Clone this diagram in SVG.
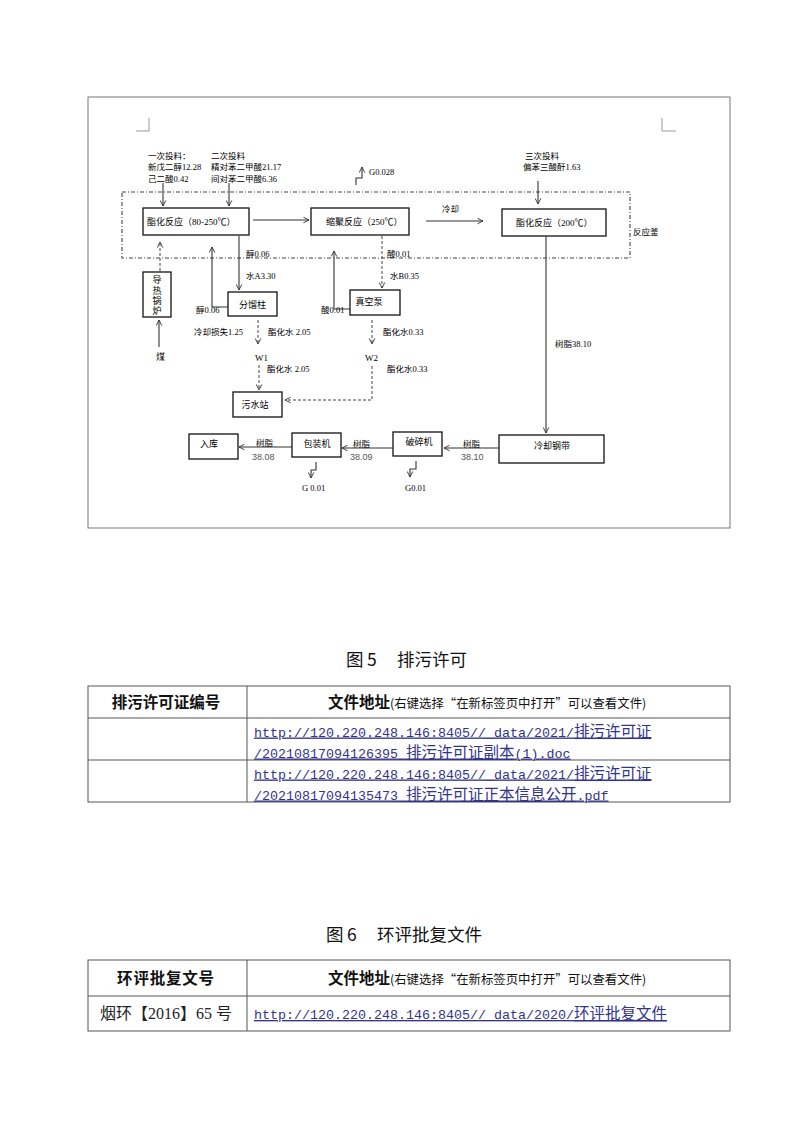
<svg xmlns="http://www.w3.org/2000/svg" width="800" height="1132" viewBox="0 0 800 1132">
<style>
.t{font-family:"Liberation Serif","Noto Sans CJK SC",serif;font-size:8.5px;fill:#000}
.b{font-family:"Liberation Serif","Noto Sans CJK SC",serif;font-size:9px;fill:#000}
.g{font-family:"Liberation Sans","Noto Sans CJK SC",sans-serif;font-size:9px;fill:#555}
.box{fill:#fff;stroke:#111;stroke-width:1.3}
.ln{fill:none;stroke:#333;stroke-width:1.1}
.ds{fill:none;stroke:#444;stroke-width:1;stroke-dasharray:3 2}
.ttl{font-family:"Noto Sans CJK SC",sans-serif;font-size:17.5px;fill:#111}
.hd{font-family:"Noto Sans CJK SC",sans-serif;font-size:15.5px;font-weight:bold;fill:#111}
.sm{font-family:"Noto Sans CJK SC",sans-serif;font-size:12.4px;font-weight:normal;fill:#111}
.lk{font-family:"Liberation Mono","Noto Sans CJK SC",monospace;font-size:13.33px;fill:#33338a;text-decoration:underline}
.cj{font-family:"Noto Sans CJK SC",sans-serif;font-size:15.5px}
.tb{fill:none;stroke:#555;stroke-width:1}
</style>
<defs>
<marker id="ah" viewBox="0 0 10 10" refX="9" refY="5" markerWidth="7" markerHeight="7" markerUnits="userSpaceOnUse" orient="auto">
<path d="M1,1 L9,5 L1,9" fill="none" stroke="#333" stroke-width="1.3"/>
</marker>
</defs>
<rect width="800" height="1132" fill="#fff"/>
<!-- diagram frame -->
<rect x="88" y="97" width="642" height="431" fill="none" stroke="#777" stroke-width="1"/>
<path d="M136,131 H149 V118 M662,118 V131 H676" fill="none" stroke="#999" stroke-width="1"/>
<g id="reactor">
<rect x="122" y="192" width="508" height="66" fill="none" stroke="#444" stroke-width="1.1" stroke-dasharray="4 2 1 2"/>
<text class="t" x="633" y="235">反应釜</text>
</g>
<g id="feed1"><text class="t" x="148" y="159">一次投料：</text><text class="t" x="148" y="170">新戊二醇12.28</text><text class="t" x="148" y="181.5">己二酸0.42</text></g>
<g id="feed2"><text class="t" x="211" y="159">二次投料</text><text class="t" x="211" y="170">精对苯二甲酸21.17</text><text class="t" x="211" y="181.5">间对苯二甲酸6.36</text></g>
<g id="feed3"><text class="t" x="525" y="159">三次投料</text><text class="t" x="523" y="170">偏苯三酸酐1.63</text></g>
<g id="g0028"><text class="t" x="369" y="175">G0.028</text></g>
<g id="esterify1"><rect class="box" x="143" y="208" width="106" height="27"/><text class="b" x="147" y="224.5">酯化反应（80-250℃）</text></g>
<g id="polycond"><rect class="box" x="311" y="208" width="98" height="27"/><text class="b" x="326" y="224.5">缩聚反应（250℃）</text></g>
<g id="esterify2"><rect class="box" x="502" y="209" width="104" height="27"/><text class="b" x="516" y="225.5">酯化反应（200℃）</text></g>
<g id="boiler"><rect class="box" x="143" y="272" width="28" height="45"/>
<text class="b" text-anchor="middle" x="157" y="283">导</text><text class="b" text-anchor="middle" x="157" y="293.5">热</text><text class="b" text-anchor="middle" x="157" y="304">锅</text><text class="b" text-anchor="middle" x="157" y="314">炉</text></g>
<g id="coal"><text class="b" text-anchor="middle" x="160.5" y="359.5">煤</text></g>
<g id="column"><rect class="box" x="228" y="292" width="49" height="24"/><text class="b" text-anchor="middle" x="252.5" y="307.5">分馏柱</text></g>
<g id="pump"><rect class="box" x="350" y="290" width="50" height="25"/><text class="b" text-anchor="middle" x="369" y="305">真空泵</text></g>
<g id="w1"><text class="b" x="255" y="360.5">W1</text></g>
<g id="w2"><text class="b" x="365" y="360.5">W2</text></g>
<g id="sewage"><rect class="box" x="233" y="392" width="49" height="25"/><text class="b" text-anchor="middle" x="255" y="407.5">污水站</text></g>
<g id="storage"><rect class="box" x="189" y="434" width="49" height="25"/><text class="b" text-anchor="middle" x="209" y="447">入库</text></g>
<g id="packer"><rect class="box" x="292" y="433" width="49" height="24"/><text class="b" text-anchor="middle" x="317" y="446.5">包装机</text></g>
<g id="crusher"><rect class="box" x="393" y="432" width="49" height="24"/><text class="b" text-anchor="middle" x="419" y="445">破碎机</text></g>
<g id="cooler"><rect class="box" x="499" y="435" width="105" height="28"/><text class="b" text-anchor="middle" x="552" y="448.5">冷却钢带</text></g>
<g id="connectors">
<line class="ln" x1="163" y1="183" x2="163" y2="206" marker-end="url(#ah)"/>
<line class="ln" x1="229" y1="183" x2="229" y2="206" marker-end="url(#ah)"/>
<line class="ln" x1="538" y1="181" x2="538" y2="204" marker-end="url(#ah)"/>
<polyline class="ln" points="356,185 356,178 362,178 362,167" marker-end="url(#ah)"/>
<line class="ln" x1="253" y1="220" x2="309" y2="220" marker-end="url(#ah)"/>
<line class="ln" x1="426" y1="221" x2="483" y2="221" marker-end="url(#ah)"/>
<text class="t" x="442" y="211.5">冷却</text>
<line class="ln" x1="546" y1="236" x2="546" y2="433" marker-end="url(#ah)"/>
<text class="t" x="555" y="346.5">树脂38.10</text>
<line class="ln" x1="499" y1="448" x2="444" y2="448" marker-end="url(#ah)"/>
<text class="t" x="463" y="447">树脂</text><text class="g" x="461" y="460">38.10</text>
<line class="ln" x1="393" y1="448" x2="342" y2="448" marker-end="url(#ah)"/>
<text class="t" x="353" y="447">树脂</text><text class="g" x="350" y="460">38.09</text>
<line class="ln" x1="292" y1="447" x2="239" y2="447" marker-end="url(#ah)"/>
<text class="t" x="256" y="446">树脂</text><text class="g" x="252" y="460">38.08</text>
<polyline class="ln" points="316,462 316,470 311,470 311,478" marker-end="url(#ah)"/>
<text class="t" x="302" y="491">G 0.01</text>
<polyline class="ln" points="416,461 416,469 410,469 410,477" marker-end="url(#ah)"/>
<text class="t" x="405" y="491">G0.01</text>
<line class="ds" x1="160" y1="271" x2="160" y2="242" marker-end="url(#ah)"/>
<line class="ln" x1="159" y1="347" x2="159" y2="320" marker-end="url(#ah)"/>
<line class="ln" x1="239" y1="236" x2="239" y2="290" marker-end="url(#ah)"/>
<text class="t" x="246" y="256.5">醇0.06</text>
<text class="t" x="246" y="279">水A3.30</text>
<polyline class="ln" points="228,307 212,307 212,247" marker-end="url(#ah)"/>
<text class="t" x="196" y="312.5">醇0.06</text>
<line class="ds" x1="382" y1="236" x2="382" y2="288" marker-end="url(#ah)"/>
<text class="t" x="387" y="256.5">酸0.01</text>
<text class="t" x="390" y="278.5">水B0.35</text>
<polyline class="ln" points="350,309 334,309 334,251" marker-end="url(#ah)"/>
<text class="t" x="321" y="312.5">酸0.01</text>
<line class="ds" x1="258" y1="320" x2="258" y2="344" marker-end="url(#ah)"/>
<text class="t" x="194" y="335">冷却损失1.25</text>
<text class="t" x="268" y="335">酯化水 2.05</text>
<line class="ds" x1="259" y1="365" x2="259" y2="390" marker-end="url(#ah)"/>
<text class="t" x="267" y="371.5">酯化水 2.05</text>
<line class="ds" x1="372" y1="320" x2="372" y2="344" marker-end="url(#ah)"/>
<text class="t" x="383" y="335">酯化水0.33</text>
<polyline class="ds" points="372,366 372,400 285,400" marker-end="url(#ah)"/>
<text class="t" x="387" y="371.5">酯化水0.33</text>
</g>
<!-- figure 5 -->
<g id="fig5">
<text class="ttl" x="346" y="666">图</text><text class="ttl" x="367" y="666">5</text><text class="ttl" x="397" y="666">排污许可</text>
<rect class="tb" x="88" y="686" width="642" height="116"/>
<line class="tb" x1="88" y1="718" x2="730" y2="718"/>
<line class="tb" x1="88" y1="760" x2="730" y2="760"/>
<line class="tb" x1="247" y1="686" x2="247" y2="802"/>
<text class="hd" x="166" y="707.5" text-anchor="middle">排污许可证编号</text>
<text class="hd" x="328" y="707.5">文件地址<tspan class="sm">(右键选择“在新标签页中打开”可以查看文件)</tspan></text>
<text class="lk" x="254" y="736.5">http://120.220.248.146:8405//_data/2021/<tspan class="cj">排污许可证</tspan></text>
<text class="lk" x="254" y="757.5">/20210817094126395_<tspan class="cj">排污许可证副本</tspan>(1).doc</text>
<text class="lk" x="254" y="778.5">http://120.220.248.146:8405//_data/2021/<tspan class="cj">排污许可证</tspan></text>
<text class="lk" x="254" y="799.5">/20210817094135473_<tspan class="cj">排污许可证正本信息公开</tspan>.pdf</text>
</g>
<!-- figure 6 -->
<g id="fig6">
<text class="ttl" x="326" y="941">图</text><text class="ttl" x="347" y="941">6</text><text class="ttl" x="377" y="941">环评批复文件</text>
<rect class="tb" x="88" y="960" width="642" height="71"/>
<line class="tb" x1="88" y1="996" x2="730" y2="996"/>
<line class="tb" x1="247" y1="960" x2="247" y2="1031"/>
<text class="hd" x="166" y="984" text-anchor="middle" letter-spacing="0.8">环评批复文号</text>
<text class="hd" x="328" y="984">文件地址<tspan class="sm">(右键选择“在新标签页中打开”可以查看文件)</tspan></text>
<text x="100" y="1019" style="font-family:'Liberation Serif','Noto Sans CJK SC',serif;font-size:16px;fill:#222">烟环【2016】65 号</text>
<text class="lk" x="254" y="1019">http://120.220.248.146:8405//_data/2020/<tspan class="cj">环评批复文件</tspan></text>
</g>
</svg>
